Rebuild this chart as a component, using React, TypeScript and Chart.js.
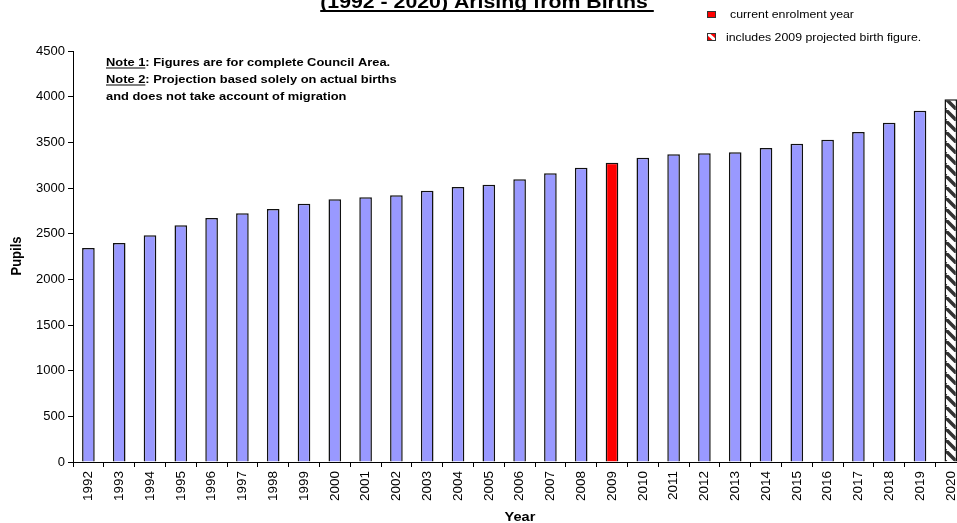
import React, { useEffect, useRef } from 'react';
import { Chart, registerables } from 'chart.js';
Chart.register(...registerables);

const years = ['1992','1993','1994','1995','1996','1997','1998','1999','2000','2001','2002','2003','2004','2005','2006','2007','2008','2009','2010','2011','2012','2013','2014','2015','2016','2017','2018','2019','2020'];
const pupils = [2343, 2398, 2482, 2592, 2672, 2723, 2770, 2828, 2876, 2898, 2920, 2969, 3011, 3036, 3095, 3161, 3222, 3277, 3332, 3369, 3380, 3391, 3438, 3485, 3529, 3613, 3715, 3846, 3971];
const yMin = 0;
const yMax = 4500;
const yStep = 500;
const currentYear = '2009';
const projectedYear = '2020';

const titleText = '(1992 - 2020) Arising from Births';
const noteLines: [string, string][] = [
  ['Note 1', ': Figures are for complete Council Area.'],
  ['Note 2', ': Projection based solely on actual births'],
  ['', 'and does not take account of migration'],
];
const legendItems = ['current enrolment year', 'includes 2009 projected birth figure.'];
const xTitle = 'Year';
const yTitle = 'Pupils';

const F = 'Arial, "Liberation Sans", sans-serif';
const SX = 1.12; // horizontal stretch of the original text
const W = 971;
const H = 523;

function makePattern(ctx: CanvasRenderingContext2D) {
  const T = 11;
  const c = document.createElement('canvas');
  c.width = T; c.height = T;
  const g = c.getContext('2d')!;
  g.fillStyle = '#fff';
  g.fillRect(0, 0, T, T);
  g.strokeStyle = '#333';
  g.lineWidth = 3.5;
  for (let k = -1; k <= 1; k++) {
    g.beginPath();
    g.moveTo(k * T, 0);
    g.lineTo(k * T + T, T);
    g.stroke();
  }
  return ctx.createPattern(c, 'repeat')!;
}

function sText(ctx: CanvasRenderingContext2D, text: string, x: number, y: number) {
  ctx.save();
  ctx.translate(x, 0);
  ctx.scale(SX, 1);
  ctx.fillText(text, 0, y);
  ctx.restore();
}

const decor = {
  id: 'decor',
  afterDraw(chart: any) {
    const ctx: CanvasRenderingContext2D = chart.ctx;
    ctx.save();
    ctx.fillStyle = '#000';
    // title (top is cut off)
    ctx.font = `bold 19px ${F}`;
    ctx.textAlign = 'center';
    ctx.textBaseline = 'alphabetic';
    const tw = ctx.measureText(titleText).width * SX;
    sText(ctx, titleText, 484, 8);
    ctx.fillRect(484 - tw / 2, 10, tw + 6, 2);

    // notes
    ctx.font = `bold 11.5px ${F}`;
    ctx.textAlign = 'left';
    const nx = 106;
    const nys = [66, 83, 99.5];
    noteLines.forEach(([u, rest], i) => {
      let x = nx;
      if (u) {
        const w = ctx.measureText(u).width * SX;
        sText(ctx, u, x, nys[i]);
        ctx.fillRect(x, nys[i] + 1.5, w, 1);
        x += w;
      }
      sText(ctx, rest, x, nys[i]);
    });

    // legend
    ctx.font = `11px ${F}`;
    ctx.textBaseline = 'middle';
    ctx.fillStyle = '#ff0000';
    ctx.fillRect(707, 11, 9, 7);
    ctx.strokeStyle = '#333';
    ctx.lineWidth = 1;
    ctx.strokeRect(707.5, 11.5, 8, 6);
    ctx.fillStyle = '#000';
    sText(ctx, legendItems[0], 730, 15);

    ctx.fillStyle = '#ff0000';
    ctx.fillRect(707, 33, 9, 8);
    ctx.save();
    ctx.beginPath();
    ctx.rect(707, 33, 9, 8);
    ctx.clip();
    ctx.strokeStyle = '#fff';
    ctx.lineWidth = 3;
    ctx.beginPath();
    ctx.moveTo(705, 31);
    ctx.lineTo(718, 43);
    ctx.stroke();
    ctx.restore();
    ctx.strokeStyle = '#333';
    ctx.lineWidth = 1;
    ctx.strokeRect(707.5, 33.5, 8, 7);
    ctx.fillStyle = '#000';
    sText(ctx, legendItems[1], 726, 37.5);

    // axis titles
    ctx.font = `bold 13px ${F}`;
    ctx.textAlign = 'center';
    ctx.textBaseline = 'alphabetic';
    sText(ctx, xTitle, 520, 521);
    ctx.save();
    ctx.scale(SX, 1);
    ctx.translate(19, 256);
    ctx.rotate(-Math.PI / 2);
    ctx.fillText(yTitle, 0, 0);
    ctx.restore();
    ctx.restore();
  },
};

export default function App() {
  const ref = useRef<HTMLCanvasElement>(null);
  useEffect(() => {
    document.documentElement.style.overflow = 'hidden';
    document.body.style.overflow = 'hidden';
    const canvas = ref.current!;
    const ctx = canvas.getContext('2d')!;
    const pattern = makePattern(ctx);
    const colors = years.map((y) => (y === currentYear ? '#ff0000' : y === projectedYear ? pattern : '#9999ff'));
    const chart = new Chart(canvas, {
      type: 'bar',
      data: {
        labels: years,
        datasets: [
          {
            data: pupils,
            backgroundColor: colors as any,
            borderColor: '#111',
            borderWidth: 1.5,
            categoryPercentage: 1,
            barPercentage: 0.41,
          },
        ],
      },
      plugins: [decor],
      options: {
        animation: false,
        responsive: true,
        maintainAspectRatio: false,
        devicePixelRatio: 1,
        layout: { padding: { top: 51, left: 0, right: 0, bottom: 0 } },
        plugins: { legend: { display: false }, tooltip: { enabled: false }, title: { display: false } },
        scales: {
          x: {
            offset: true,
            grid: { display: true, drawOnChartArea: false, drawTicks: true, tickLength: 5, color: '#000', offset: true },
            border: { display: true, color: '#000', width: 1 },
            ticks: {
              autoSkip: false,
              minRotation: 90,
              maxRotation: 90,
              padding: 4,
              color: '#000',
              font: { family: F, size: 13.5 },
            },
            afterFit: (s: any) => { s.height = H - 462; },
          },
          y: {
            min: yMin,
            max: yMax,
            grid: { display: true, drawOnChartArea: false, drawTicks: true, tickLength: 5, color: '#000' },
            border: { display: true, color: '#000', width: 1 },
            ticks: {
              stepSize: yStep,
              padding: 3,
              color: '#000',
              font: { family: F, size: 13 },
              callback: (v: any) => String(v),
            },
            afterFit: (s: any) => { s.width = 73; },
          },
        },
      },
    });
    return () => chart.destroy();
  }, []);
  return (
    <div
      style={{
        position: 'fixed',
        left: 0,
        top: 0,
        width: W,
        height: H,
        background: '#fff',
      }}
    >
      <canvas ref={ref} />
    </div>
  );
}
